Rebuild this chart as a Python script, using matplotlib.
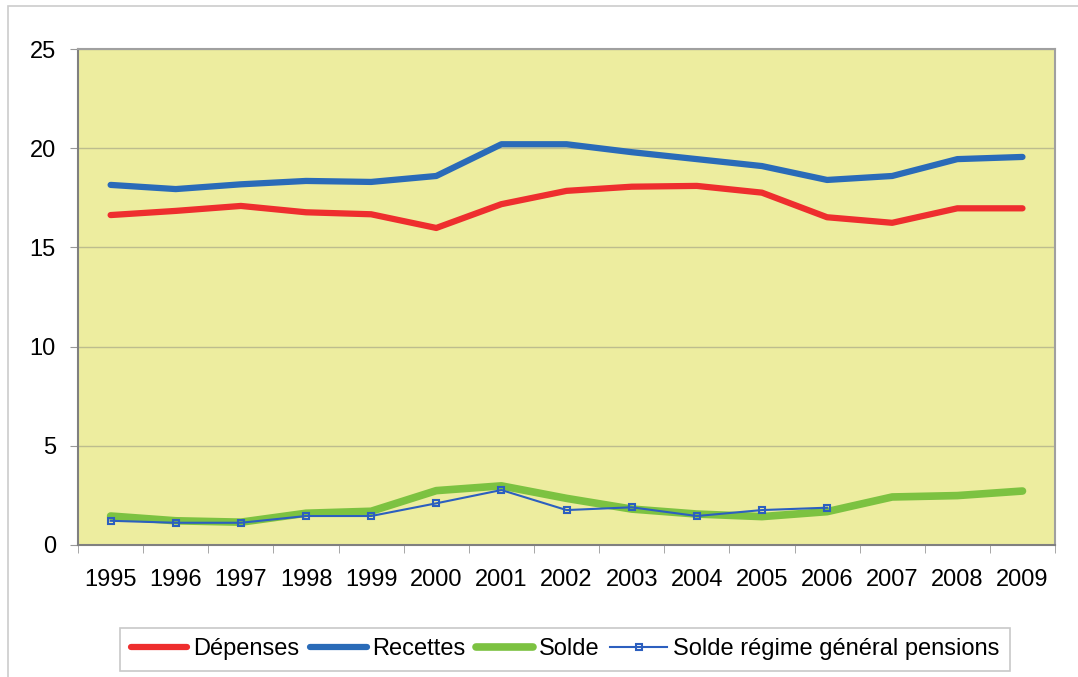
import matplotlib
matplotlib.use("Agg")
import matplotlib.pyplot as plt
from matplotlib.patches import Rectangle
import numpy as np

plt.rcParams['font.family'] = ['Liberation Sans', 'DejaVu Sans']

years = ['1995', '1996', '1997', '1998', '1999', '2000', '2001', '2002',
         '2003', '2004', '2005', '2006', '2007', '2008', '2009']
depenses = [16.63, 16.84, 17.09, 16.77, 16.67, 15.98, 17.18, 17.85,
            18.06, 18.1, 17.76, 16.52, 16.24, 16.97, 16.97]
recettes = [18.15, 17.94, 18.18, 18.35, 18.3, 18.6, 20.2, 20.2,
            19.8, 19.45, 19.1, 18.4, 18.6, 19.45, 19.56]
solde = [1.46, 1.22, 1.15, 1.6, 1.7, 2.74, 2.98, 2.35,
         1.81, 1.56, 1.43, 1.68, 2.42, 2.49, 2.72]
solde_rg = [1.22, 1.12, 1.12, 1.46, 1.46, 2.1, 2.77, 1.76,
            1.9, 1.46, 1.76, 1.88]

fig = plt.figure(figsize=(10.78, 6.77), dpi=100)
ax = fig.add_axes([0.0724, 0.195, 0.9063, 0.7326])
ax.set_facecolor('#EDED9F')

x = np.arange(len(years))
ax.plot(x, depenses, color='#EE2E2E', lw=4.5, label='Dépenses', solid_capstyle='round')
ax.plot(x, recettes, color='#2A6BB8', lw=4.5, label='Recettes', solid_capstyle='round')
ax.plot(x, solde, color='#7CC241', lw=5.5, label='Solde', solid_capstyle='round')
ax.plot(x[:len(solde_rg)], solde_rg, color='#2C5FBF', lw=1.5, marker='s',
        markersize=5, markerfacecolor='none', markeredgewidth=1.5,
        label='Solde régime général pensions')

ax.set_xlim(-0.5, len(years) - 0.5)
ax.set_ylim(0, 25)
ax.set_yticks([0, 5, 10, 15, 20, 25])
ax.yaxis.grid(True, color='#BDBD8E', lw=1)
ax.set_axisbelow(True)

ax.set_xticks(x)
ax.set_xticklabels(years)
ax.set_xticks(np.arange(-0.5, len(years), 1), minor=True)
ax.tick_params(axis='x', which='major', length=0, pad=17, labelsize=17)
ax.tick_params(axis='x', which='minor', length=6, color='#999999')
ax.tick_params(axis='y', length=6, color='#999999', labelsize=17, pad=10)

for side in ['top', 'right']:
    ax.spines[side].set_color('#A0A0A0')
    ax.spines[side].set_linewidth(1.5)
for side in ['left', 'bottom']:
    ax.spines[side].set_color('#808080')
    ax.spines[side].set_linewidth(1.5)

leg = fig.legend(loc='center', bbox_to_anchor=(0.524, 0.041), ncol=4,
                 fontsize=17, frameon=True, fancybox=False, edgecolor='#BBBBBB',
                 handlelength=2.4, handletextpad=0.25, columnspacing=0.45,
                 borderpad=0.45, borderaxespad=0)
leg.get_frame().set_linewidth(1.2)

fig.patches.append(Rectangle((8 / 1078, -0.05), 1.1, 1.05 - 6 / 677,
                             transform=fig.transFigure, fill=False,
                             edgecolor='#CCCCCC', lw=1.2))

fig.savefig('out.png', dpi=100)
